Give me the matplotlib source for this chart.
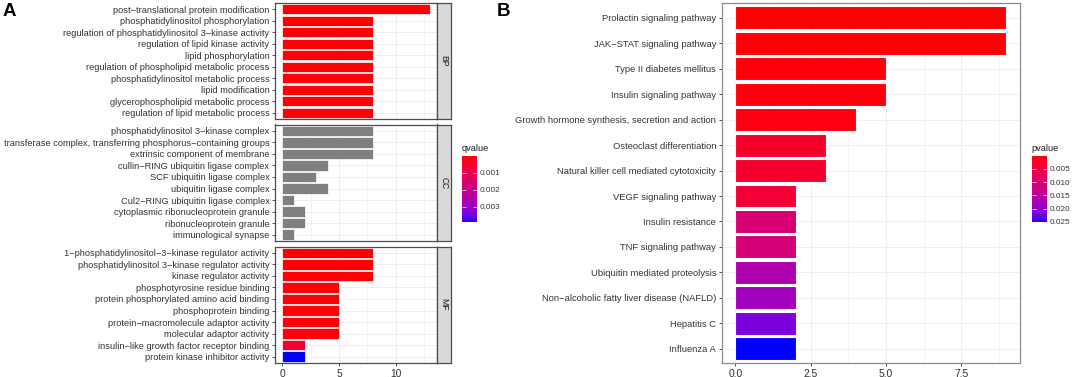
import numpy as np
import matplotlib.pyplot as plt
import matplotlib.colors as mcolors
from matplotlib.cm import ScalarMappable

plt.rcParams['font.family'] = ['Liberation Sans', 'DejaVu Sans']

# ---- panel A: GO enrichment (BP / CC / MF) ----
bp_terms = ['post−translational protein modification',
            'phosphatidylinositol phosphorylation',
            'regulation of phosphatidylinositol 3−kinase activity',
            'regulation of lipid kinase activity',
            'lipid phosphorylation',
            'regulation of phospholipid metabolic process',
            'phosphatidylinositol metabolic process',
            'lipid modification',
            'glycerophospholipid metabolic process',
            'regulation of lipid metabolic process']
bp_count = [13, 8, 8, 8, 8, 8, 8, 8, 8, 8]
bp_q = [0.00002, 0.00003, 0.00003, 0.00003, 0.00004,
        0.00004, 0.00005, 0.00006, 0.00006, 0.00007]

cc_terms = ['phosphatidylinositol 3−kinase complex',
            'transferase complex, transferring phosphorus−containing groups',
            'extrinsic component of membrane',
            'cullin−RING ubiquitin ligase complex',
            'SCF ubiquitin ligase complex',
            'ubiquitin ligase complex',
            'Cul2−RING ubiquitin ligase complex',
            'cytoplasmic ribonucleoprotein granule',
            'ribonucleoprotein granule',
            'immunological synapse']
cc_count = [8, 8, 8, 4, 3, 4, 1, 2, 2, 1]
cc_q = [np.nan] * 10

mf_terms = ['1−phosphatidylinositol−3−kinase regulator activity',
            'phosphatidylinositol 3−kinase regulator activity',
            'kinase regulator activity',
            'phosphotyrosine residue binding',
            'protein phosphorylated amino acid binding',
            'phosphoprotein binding',
            'protein−macromolecule adaptor activity',
            'molecular adaptor activity',
            'insulin−like growth factor receptor binding',
            'protein kinase inhibitor activity']
mf_count = [8, 8, 8, 5, 5, 5, 5, 5, 2, 2]
mf_q = [0.00002, 0.00002, 0.00003, 0.00005, 0.00005,
        0.00006, 0.00006, 0.00007, 0.0005, 0.0039]

facets = ['BP', 'CC', 'MF']

# ---- panel B: KEGG enrichment ----
kegg_terms = ['Prolactin signaling pathway',
              'JAK−STAT signaling pathway',
              'Type II diabetes mellitus',
              'Insulin signaling pathway',
              'Growth hormone synthesis, secretion and action',
              'Osteoclast differentiation',
              'Natural killer cell mediated cytotoxicity',
              'VEGF signaling pathway',
              'Insulin resistance',
              'TNF signaling pathway',
              'Ubiquitin mediated proteolysis',
              'Non−alcoholic fatty liver disease (NAFLD)',
              'Hepatitis C',
              'Influenza A']
kegg_count = [9, 9, 5, 5, 4, 3, 3, 2, 2, 2, 2, 2, 2, 2]
kegg_p = [0.00002, 0.0002, 0.0004, 0.0005, 0.0008, 0.0026, 0.0028,
          0.0037, 0.0103, 0.0105, 0.0166, 0.0182, 0.0214, 0.0252]


# red -> blue gradient interpolated in Lab space (like ggplot)
M = np.array([[0.4124, 0.3576, 0.1805],
              [0.2126, 0.7152, 0.0722],
              [0.0193, 0.1192, 0.9505]])
WHITE = np.array([0.95047, 1.0, 1.08883])

def to_lab( c ):
    rgb = np.array( mcolors.to_rgb( c ) )
    lin = np.where( rgb <= 0.04045, rgb / 12.92, ( ( rgb + 0.055 ) / 1.055 ) ** 2.4 )
    xyz = M @ lin / WHITE
    f = np.where( xyz > 0.008856, np.cbrt( xyz ), 7.787 * xyz + 16 / 116 )
    return np.array( [116 * f[1] - 16, 500 * ( f[0] - f[1] ), 200 * ( f[1] - f[2] )] )

def from_lab( lab ):
    fy = ( lab[0] + 16 ) / 116
    f = np.array( [fy + lab[1] / 500, fy, fy - lab[2] / 200] )
    xyz = np.where( f > 0.2069, f ** 3, ( f - 16 / 116 ) / 7.787 ) * WHITE
    lin = np.clip( np.linalg.solve( M, xyz ), 0, 1 )
    rgb = np.where( lin <= 0.0031308, 12.92 * lin, 1.055 * lin ** ( 1 / 2.4 ) - 0.055 )
    return np.clip( rgb, 0, 1 )

lo, hi = to_lab( '#FF0000' ), to_lab( '#0000FF' )
cmap = mcolors.ListedColormap( [from_lab( lo + t * ( hi - lo ) )
                                for t in np.linspace( 0, 1, 256 )] )

txt_col = '#333333'
grid_col = '#EBEBEB'

fig = plt.figure( figsize = ( 10.72, 3.77 ), dpi = 100 )

def px_axes( x0, y0, x1, y1 ):
    return fig.add_axes( [x0 / 1072, 1 - y1 / 377, ( x1 - x0 ) / 1072, ( y1 - y0 ) / 377] )

def style_axes( ax, xlim, major, minor, n, edge, exp ):
    ax.set_xlim( *xlim )
    ax.set_ylim( n - 1 + exp, -exp )
    ax.set_xticks( major )
    ax.set_xticks( minor, minor = True )
    ax.set_yticks( range( n ) )
    ax.grid( True, which = 'major', color = grid_col, lw = 0.6 )
    ax.grid( True, which = 'minor', axis = 'x', color = grid_col, lw = 0.4 )
    ax.set_axisbelow( True )
    for s in ax.spines.values():
        s.set_color( edge )
        s.set_linewidth( 0.9 )
    ax.tick_params( which = 'major', length = 2.5, width = 0.6, color = '#333333',
                    labelcolor = txt_col, pad = 1.5 )
    ax.tick_params( which = 'minor', length = 0 )

def legend_bar( x0, norm, ticks, labels, title ):
    cax = px_axes( x0, 155.7, x0 + 15, 222.3 )
    cb = fig.colorbar( ScalarMappable( norm = norm, cmap = cmap ), cax = cax )
    cb.outline.set_visible( False )
    cb.set_ticks( ticks )
    cb.set_ticklabels( labels )
    cax.invert_yaxis()
    cax.tick_params( left = True, right = True, direction = 'in', length = 3, width = 0.5,
                     color = 'white', labelsize = 5.9, labelcolor = txt_col, pad = 1.8 )
    fig.text( ( x0 - 0.5 ) / 1072, 1 - 148.5 / 377, title, fontsize = 6.6,
              va = 'center', color = '#1a1a1a' )

# ---- panel A ----
qnorm = mcolors.Normalize( vmin = 0.0, vmax = 0.0039 )
rows = [( 3, 119 ), ( 124.5, 241 ), ( 246.5, 363 )]
terms_all = [bp_terms, cc_terms, mf_terms]
count_all = [bp_count, cc_count, mf_count]
q_all = [bp_q, cc_q, mf_q]

for i in range( 3 ):
    y0, y1 = rows[i]
    ax = px_axes( 275, y0, 437, y1 )
    q = np.array( q_all[i], dtype = float )
    cols = [cmap( qnorm( v ) ) if np.isfinite( v ) else '#7F7F7F' for v in q]
    ax.barh( range( len( terms_all[i] ) ), count_all[i], height = 0.9,
             color = cols, edgecolor = 'white', linewidth = 0.5 )
    style_axes( ax, ( -0.65, 13.65 ), [0, 5, 10], [2.5, 7.5, 12.5],
                len( terms_all[i] ), '#4d4d4d', 0.55 )
    ax.set_yticklabels( terms_all[i], fontsize = 6.65 )
    if i < 2:
        ax.tick_params( axis = 'x', bottom = False, labelbottom = False )
    else:
        ax.tick_params( axis = 'x', labelsize = 7.4 )

    st = px_axes( 437, y0, 450.5, y1 )
    st.set_facecolor( '#D9D9D9' )
    st.set_xticks( [] )
    st.set_yticks( [] )
    for s in st.spines.values():
        s.set_color( '#4d4d4d' )
        s.set_linewidth( 0.9 )
    st.text( 0.5, 0.5, facets[i], rotation = -90, ha = 'center', va = 'center',
             fontsize = 6.2, color = '#1a1a1a', transform = st.transAxes )

legend_bar( 462, qnorm, [0.001, 0.002, 0.003], ['0.001', '0.002', '0.003'], 'qvalue' )

# ---- panel B ----
pnorm = mcolors.Normalize( vmin = 0.0, vmax = 0.0252 )
axb = px_axes( 721.7, 3.3, 1020, 363.3 )
axb.barh( range( len( kegg_terms ) ), kegg_count, height = 0.9,
          color = [cmap( pnorm( v ) ) for v in kegg_p],
          edgecolor = 'white', linewidth = 0.8 )
style_axes( axb, ( -0.45, 9.45 ), [0, 2.5, 5, 7.5], [1.25, 3.75, 6.25, 8.75],
            len( kegg_terms ), '#8c8c8c', 0.57 )
axb.set_yticklabels( kegg_terms, fontsize = 6.75 )
axb.set_xticklabels( ['0.0', '2.5', '5.0', '7.5'] )
axb.tick_params( axis = 'x', labelsize = 7.4 )

legend_bar( 1031.7, pnorm, [0.005, 0.010, 0.015, 0.020, 0.025],
            ['0.005', '0.010', '0.015', '0.020', '0.025'], 'pvalue' )

# panel letters
fig.text( 3 / 1072, 1 - 12 / 377, 'A', fontsize = 13.5, fontweight = 'bold', va = 'center' )
fig.text( 497 / 1072, 1 - 12 / 377, 'B', fontsize = 13.5, fontweight = 'bold', va = 'center' )

plt.savefig( 'out.png', dpi = 100 )
plt.close()
